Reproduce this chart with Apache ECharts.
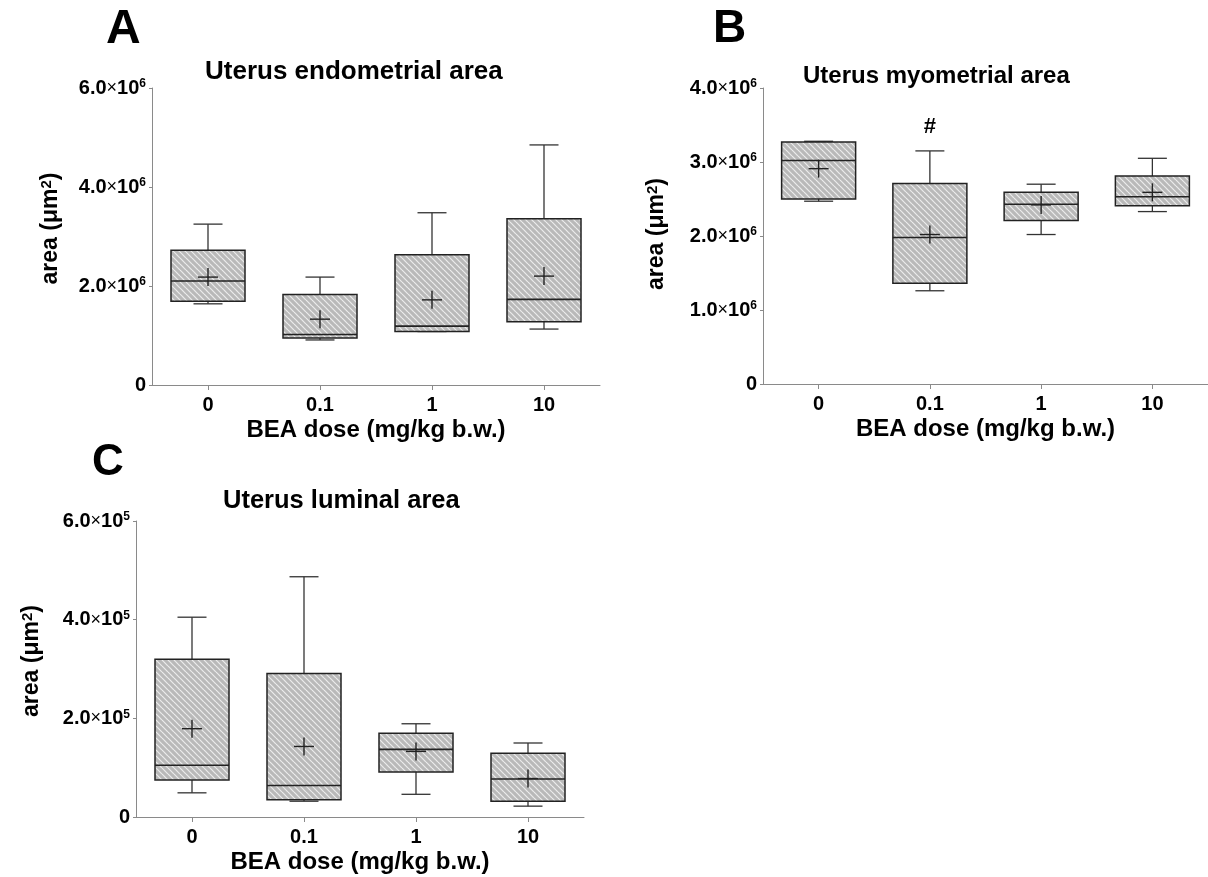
<!DOCTYPE html>
<html>
<head>
<meta charset="utf-8">
<script src="https://cdn.jsdelivr.net/npm/echarts@6/dist/echarts.min.js"></script>
<style>
html,body{margin:0;padding:0;background:#fff;}
#chart{width:1208px;height:877px;}
</style>
</head>
<body>
<div id="chart"></div>
<script>
// ---------- DATA ----------
const categories = ['0', '0.1', '1', '10'];

// Panel A: Uterus endometrial area (µm²)
const minA  = [1.64e6, 0.91e6, 1.08e6, 1.13e6];
const q1A   = [1.69e6, 0.95e6, 1.08e6, 1.28e6];
const medA  = [2.10e6, 1.02e6, 1.19e6, 1.73e6];
const q3A   = [2.72e6, 1.83e6, 2.63e6, 3.36e6];
const maxA  = [3.25e6, 2.18e6, 3.48e6, 4.85e6];
const meanA = [2.18e6, 1.33e6, 1.72e6, 2.20e6];

// Panel B: Uterus myometrial area (µm²)
const minB  = [2.47e6, 1.26e6, 2.02e6, 2.33e6];
const q1B   = [2.50e6, 1.36e6, 2.21e6, 2.41e6];
const medB  = [3.02e6, 1.98e6, 2.43e6, 2.53e6];
const q3B   = [3.27e6, 2.71e6, 2.59e6, 2.81e6];
const maxB  = [3.28e6, 3.15e6, 2.70e6, 3.05e6];
const meanB = [2.91e6, 2.02e6, 2.42e6, 2.59e6];
const notesB = ['', '#', '', ''];

// Panel C: Uterus luminal area (µm²)
const minC  = [0.49e5, 0.32e5, 0.46e5, 0.22e5];
const q1C   = [0.75e5, 0.35e5, 0.91e5, 0.32e5];
const medC  = [1.05e5, 0.64e5, 1.37e5, 0.77e5];
const q3C   = [3.20e5, 2.91e5, 1.70e5, 1.29e5];
const maxC  = [4.05e5, 4.87e5, 1.89e5, 1.50e5];
const meanC = [1.79e5, 1.43e5, 1.33e5, 0.78e5];

const yTicksA = {max: 6e6, interval: 2e6, exp: 6};
const yTicksB = {max: 4e6, interval: 1e6, exp: 6};
const yTicksC = {max: 6e5, interval: 2e5, exp: 5};

// ---------- STYLE HELPERS ----------
const FF = '"Liberation Sans", Arial, Helvetica, sans-serif';

const pc = document.createElement('canvas');
pc.width = 6; pc.height = 6;
const pctx = pc.getContext('2d');
pctx.fillStyle = '#b9b9b9';
pctx.fillRect(0, 0, 6, 6);
pctx.strokeStyle = '#ececec';
pctx.lineWidth = 1.2;
for (const c of [-6, 0, 6]) {
  pctx.beginPath();
  pctx.moveTo(0, c);
  pctx.lineTo(6, 6 + c);
  pctx.stroke();
}
const hatch = {image: pc, repeat: 'repeat'};

function build(mins, q1s, meds, q3s, maxs, means) {
  return categories.map((c, i) => [i, mins[i], q1s[i], meds[i], q3s[i], maxs[i], means[i]]);
}

function makeRender(notes) {
  return function (params, api) {
    const idx = api.value(0);
    const x = api.coord([idx, 0])[0];
    const Y = v => api.coord([idx, v])[1];
    const yMin = Y(api.value(1)), yQ1 = Y(api.value(2)), yMed = Y(api.value(3));
    const yQ3 = Y(api.value(4)), yMax = Y(api.value(5)), yMean = Y(api.value(6));
    const hw = 37, cw = 14.5, pw = 10, ph = 9;
    const ln = (x1, y1, x2, y2, w, col) => ({
      type: 'line', shape: {x1, y1, x2, y2},
      style: {stroke: col || '#333', lineWidth: w || 1.3}
    });
    const children = [
      ln(x, yQ3, x, yMax),
      ln(x - cw, yMax, x + cw, yMax),
      ln(x, yQ1, x, yMin),
      ln(x - cw, yMin, x + cw, yMin),
      {type: 'rect', shape: {x: x - hw, y: yQ3, width: 2 * hw, height: yQ1 - yQ3},
       style: {fill: hatch, stroke: '#222', lineWidth: 1.5}},
      ln(x - hw, yMed, x + hw, yMed, 1.6, '#222'),
      ln(x - pw, yMean, x + pw, yMean, 1.4, '#222'),
      ln(x, yMean - ph, x, yMean + ph, 1.4, '#222')
    ];
    if (notes && notes[idx]) {
      children.push({type: 'text', x: x, y: yMax - 24,
        style: {text: notes[idx], fill: '#000', font: 'bold 22px ' + FF,
                textAlign: 'center', textVerticalAlign: 'middle'}});
    }
    return {type: 'group', children};
  };
}

function yFmt(exp) {
  return function (v) {
    if (v === 0) return '0';
    const m = v / Math.pow(10, exp);
    return '{n|' + m.toFixed(1) + '}{x|×}{n|10}{s|' + exp + '}';
  };
}

function xAxis(gi) {
  return {
    type: 'category', gridIndex: gi, data: categories, boundaryGap: true,
    axisLine: {lineStyle: {color: '#8a8a8a', width: 1}},
    axisTick: {show: true, alignWithLabel: true, length: 5, lineStyle: {color: '#8a8a8a'}},
    axisLabel: {margin: 10, color: '#000', fontSize: 20, fontWeight: 'bold', fontFamily: FF},
    name: 'BEA dose (mg/kg b.w.)', nameLocation: 'middle', nameGap: 33,
    nameTextStyle: {color: '#000', fontSize: 24, fontWeight: 'bold', fontFamily: FF},
    splitLine: {show: false}
  };
}

function yAxis(gi, t, gap, shift) {
  return {
    type: 'value', gridIndex: gi, min: 0, max: t.max, interval: t.interval,
    axisLine: {show: true, lineStyle: {color: '#8a8a8a', width: 1}},
    axisTick: {show: true, length: 3, lineStyle: {color: '#8a8a8a'}},
    splitLine: {show: false},
    axisLabel: {
      margin: 6, color: '#000', fontSize: 20, fontWeight: 'bold', fontFamily: FF,
      formatter: yFmt(t.exp),
      rich: {
        n: {fontSize: 20, fontWeight: 'bold', fontFamily: FF, color: '#000'},
        x: {fontSize: 18, fontWeight: 'normal', fontFamily: FF, color: '#000'},
        s: {fontSize: 12, fontWeight: 'bold', fontFamily: FF, color: '#000', verticalAlign: 'top'}
      }
    },
    name: 'area (μm{s|2})', nameLocation: 'middle', nameGap: gap, nameRotate: 90,
    nameTextStyle: {
      color: '#000', fontSize: 23, fontWeight: 'bold', fontFamily: FF,
      padding: [0, 0, 0, shift],
      rich: {s: {fontSize: 15, fontWeight: 'bold', fontFamily: FF, color: '#000', verticalAlign: 'top'}}
    }
  };
}

function txt(text, x, y, size) {
  return {type: 'text', left: x, top: y,
    style: {text, fill: '#000', font: 'bold ' + size + 'px ' + FF}};
}

const chart = echarts.init(document.getElementById('chart'), null, {renderer: 'canvas'});
chart.setOption({
  animation: false,
  backgroundColor: '#fff',
  grid: [
    {left: 152, top: 88, width: 448, height: 297},
    {left: 763, top: 88, width: 447, height: 296},
    {left: 136, top: 521, width: 448, height: 296}
  ],
  xAxis: [xAxis(0), xAxis(1), xAxis(2)],
  yAxis: [yAxis(0, yTicksA, 90, 16), yAxis(1, yTicksB, 95, 4), yAxis(2, yTicksC, 93, 16)],
  graphic: [
    txt('A', 106, 6, 48),
    txt('B', 713, 6, 46),
    txt('C', 92, 441, 44),
    txt('Uterus endometrial area', 205, 59, 26),
    txt('Uterus myometrial area', 803, 64, 24),
    txt('Uterus luminal area', 223, 488, 25.5)
  ],
  series: [
    {type: 'custom', xAxisIndex: 0, yAxisIndex: 0, renderItem: makeRender(null),
     encode: {x: 0, y: [1, 2, 3, 4, 5, 6]}, data: build(minA, q1A, medA, q3A, maxA, meanA)},
    {type: 'custom', xAxisIndex: 1, yAxisIndex: 1, renderItem: makeRender(notesB),
     encode: {x: 0, y: [1, 2, 3, 4, 5, 6]}, data: build(minB, q1B, medB, q3B, maxB, meanB)},
    {type: 'custom', xAxisIndex: 2, yAxisIndex: 2, renderItem: makeRender(null),
     encode: {x: 0, y: [1, 2, 3, 4, 5, 6]}, data: build(minC, q1C, medC, q3C, maxC, meanC)}
  ]
});
</script>
</body>
</html>
